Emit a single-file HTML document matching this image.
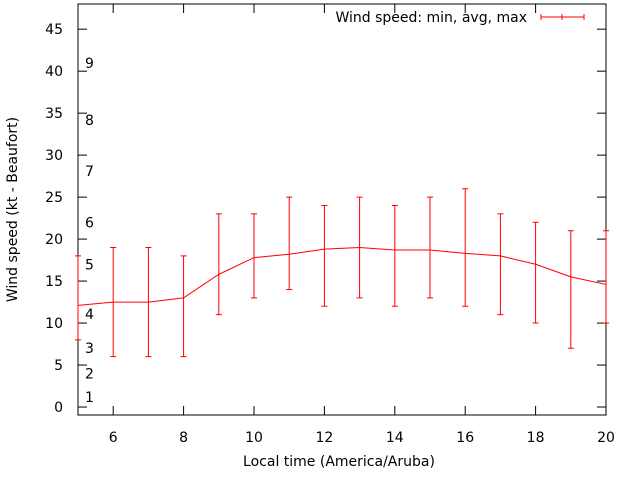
<!DOCTYPE html>
<html><head><meta charset="utf-8"><style>
body{margin:0;background:#fff;}
svg text{font-family:"DejaVu Sans","Liberation Sans",sans-serif;font-size:14px;fill:#000;}
</style></head><body>
<svg id="chart" width="640" height="480" xmlns="http://www.w3.org/2000/svg"></svg>
<script>
const hours=[5,6,7,8,9,10,11,12,13,14,15,16,17,18,19,20];
const avgSpeed=[12.1,12.5,12.5,13,15.8,17.8,18.2,18.8,19,18.7,18.7,18.3,18,17,15.5,14.6];
const minSpeed=[8,6,6,6,11,13,14,12,13,12,13,12,11,10,7,10];
const maxSpeed=[18,19,19,18,23,23,25,24,25,24,25,26,23,22,21,21];
const yTicks=[0,5,10,15,20,25,30,35,40,45];
const xTicks=[6,8,10,12,14,16,18,20];
const beaufortLabels=["1","2","3","4","5","6","7","8","9"];
const beaufortValues=[1.2,4,7,11.1,17,22,28.1,34.2,41];

const L=78,R=606,T=4,B=415;
const xMin=5,xMax=20,yMin=-0.95,yMax=48;
const xs=v=>L+(v-xMin)/(xMax-xMin)*(R-L);
const ys=v=>B-(v-yMin)/(yMax-yMin)*(B-T);
const svg=document.getElementById('chart');
const NS="http://www.w3.org/2000/svg";
function add(tag,attrs,txt){const e=document.createElementNS(NS,tag);for(const k in attrs)e.setAttribute(k,attrs[k]);if(txt!==undefined)e.textContent=txt;svg.appendChild(e);return e;}

yTicks.forEach(v=>{
  const y=ys(v);
  let t=add('line',{x1:L,x2:L+9,y1:y,y2:y,stroke:'#000'});
  
  
  t=add('line',{x1:R-9,x2:R,y1:y,y2:y,stroke:'#000'});
  
  
  const lb=add('text',{x:L-15,y:y+5,'text-anchor':'end'},String(v));
  
  
});
xTicks.forEach(v=>{
  const x=xs(v);
  let t=add('line',{x1:x,x2:x,y1:B,y2:B-9,stroke:'#000'});
  
  
  t=add('line',{x1:x,x2:x,y1:T,y2:T+9,stroke:'#000'});
  
  
  const lb=add('text',{x:x,y:B+27,'text-anchor':'middle'},String(v));
  
  
});
beaufortLabels.forEach((s,i)=>{
  const lb=add('text',{x:85,y:ys(beaufortValues[i])+5},s);
  
  
});
const frame=add('rect',{x:L,y:T,width:R-L,height:B-T,fill:'none',stroke:'#000'});



const g=add('g',{stroke:'#f00','stroke-width':1,fill:'none'});


hours.forEach((h,i)=>{
  const x=xs(h),y1=ys(minSpeed[i]),y2=ys(maxSpeed[i]);
  const p=document.createElementNS(NS,'path');
  p.setAttribute('d',`M${x},${y1}V${y2}M${x-3},${y1}H${x+3}M${x-3},${y2}H${x+3}`);
  
  
  g.appendChild(p);
});
const line=document.createElementNS(NS,'polyline');
line.setAttribute('points',hours.map((h,i)=>xs(h)+','+ys(avgSpeed[i])).join(' '));


g.appendChild(line);

const lt=add('text',{x:527,y:22,'text-anchor':'end'},'Wind speed: min, avg, max');


const ls=add('path',{d:'M541,17H584M541,14V20M584,14V20M562,14V20',stroke:'#f00',fill:'none'});



const xt=add('text',{x:339,y:466,'text-anchor':'middle'},'Local time (America/Aruba)');


const yt=add('text',{x:0,y:0,'text-anchor':'middle',transform:`translate(17,${(T+B)/2}) rotate(-90)`},'Wind speed (kt - Beaufort)');


</script>
</body></html>
